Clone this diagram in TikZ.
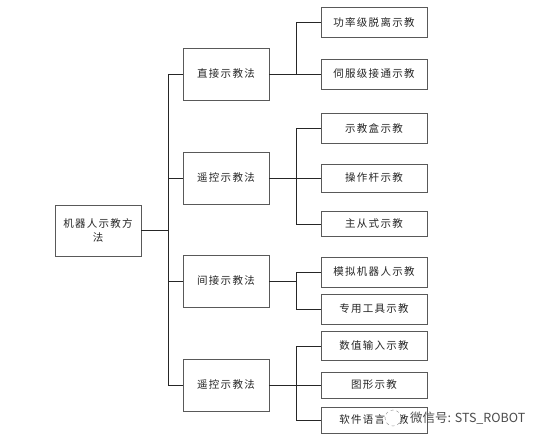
\documentclass[tikz,border=0pt]{standalone}
\usepackage{fontspec}
\newfontfamily\cjk[LetterSpace=12]{Noto Sans CJK SC}
\newfontfamily\wmfont{Noto Sans CJK SC}
\begin{document}
\begin{tikzpicture}[x=1pt,y=-1pt,
  box/.style={draw=black!65, line width=0.7pt, fill=white, inner sep=0pt,
    font=\cjk\fontsize{10.5}{14}\selectfont, text=black!85, align=center},
  lone/.style={box, minimum width=86pt, minimum height=52pt},
  ltwo/.style={box, minimum width=106pt},
  conn/.style={draw=black!85, line width=0.7pt}]
\useasboundingbox (0,0) rectangle (554,445);
\fill[white] (0,0) rectangle (554,445);
% root
\node[lone, minimum height=51pt, text width=76pt] (root) at (98,230.5) {机器人示教方\\法};
% level 1
\node[lone] (a1) at (226,74) {直接示教法};
\node[lone] (a2) at (226,178) {遥控示教法};
\node[lone] (a3) at (226,281) {间接示教法};
\node[lone] (a4) at (226,385) {遥控示教法};
% level 2
\node[ltwo, minimum height=30pt] (b1) at (374,22) {功率级脱离示教};
\node[ltwo, minimum height=30pt] (b2) at (374,74) {伺服级接通示教};
\node[ltwo, minimum height=30pt] (c1) at (374,128) {示教盒示教};
\node[ltwo, minimum height=28pt] (c2) at (374,178) {操作杆示教};
\node[ltwo, minimum height=25pt] (c3) at (374,224) {主从式示教};
\node[ltwo, minimum height=30pt] (d1) at (374,272) {模拟机器人示教};
\node[ltwo, minimum height=30pt] (d2) at (374,309) {专用工具示教};
\node[ltwo, minimum height=29pt] (e1) at (374,346) {数值输入示教};
\node[ltwo, minimum height=26pt] (e2) at (374,385) {图形示教};
\node[ltwo, minimum height=26pt] (e3) at (374,420) {软件语言示教};
% trunk and branch columns
\coordinate (t) at (168,0);
\coordinate (s) at (296,0);
\draw[conn] (root.east) -- (root.east -| t);
\draw[conn] (a1.west -| t) -- (a4.west -| t);
\foreach \n in {a1,a2,a3,a4} \draw[conn] (\n.west -| t) -- (\n.west);
\foreach \n in {a1,a2,a3,a4} \draw[conn] (\n.east) -- (\n.east -| s);
\draw[conn] (b1.west -| s) -- (b2.west -| s);
\draw[conn] (c1.west -| s) -- (c3.west -| s);
\draw[conn] (d1.west -| s) -- (d2.west -| s);
\draw[conn] (e1.west -| s) -- (e3.west -| s);
\foreach \n in {b1,b2,c1,c2,c3,d1,d2,e1,e2,e3} \draw[conn] (\n.west -| s) -- (\n.west);
% watermark
\node[circle, draw=black!45, dashed, fill=white, minimum size=16pt, inner sep=0pt] (wmicon) at (393,418) {};
\node[anchor=west, inner sep=0pt, text=black!70, font=\wmfont\fontsize{12.5}{14}\selectfont] (wm) at (410,418) {微信号: STS\_ROBOT};
\end{tikzpicture}
\end{document}
